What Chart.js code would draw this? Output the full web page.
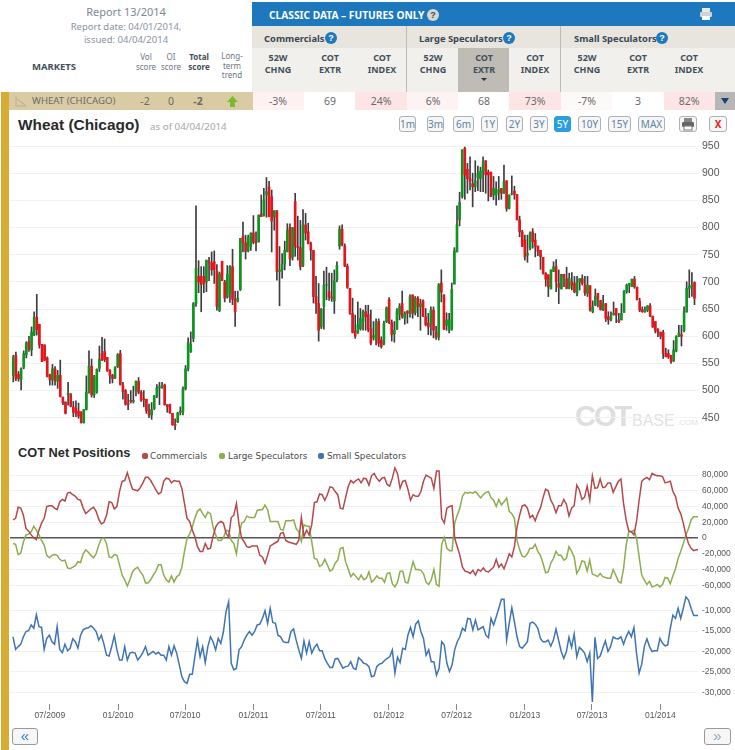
<!DOCTYPE html>
<html><head><meta charset="utf-8">
<script src="https://cdn.jsdelivr.net/npm/chart.js@4/dist/chart.umd.js"></script>
<style>
html,body{margin:0;padding:0;background:#fff;overflow:hidden}
#page{position:relative;width:735px;height:750px;overflow:hidden;font-family:"Noto Sans",sans-serif}
.a{position:absolute;white-space:nowrap}
.c{position:absolute;white-space:nowrap;transform:translateX(-50%);text-align:center}
.box{position:absolute}
.h{font-weight:700;font-size:9px;line-height:12px;color:#44505c;text-align:center}
.s{font-size:8px;line-height:9.5px;color:#6d7681;text-align:center}
.v{font-size:10.5px;line-height:18px;color:#6a6a6a;top:92px}
.q{position:absolute;width:12px;height:12px;border-radius:50%;background:#1e78bd;color:#fff;font:700 9px/12px "Liberation Sans";text-align:center}
.b{position:absolute;top:116px;height:14px;line-height:14px;border:1px solid #a9b2b8;border-radius:3px;background:#f6f6f6;color:#5f83a5;font:10px/14px "Noto Sans";text-align:center;box-sizing:content-box}
canvas{position:absolute;left:0}
</style></head><body><div id="page">
<div class="box" style="left:1px;top:92px;width:8px;height:658px;background:#d8ac32"></div>
<div class="box" style="left:9px;top:92px;width:244px;height:18px;background:#d9cca4"></div>
<div class="box" style="left:252px;top:2px;width:483px;height:24px;background:#1e78bd"></div>
<div class="box" style="left:252px;top:26px;width:483px;height:22px;background:#e8e5de"></div>
<div class="box" style="left:252px;top:48px;width:483px;height:44px;background:#f2f0ec"></div>
<div class="box" style="left:406px;top:26px;width:1px;height:66px;background:#bdbab3"></div>
<div class="box" style="left:560px;top:26px;width:1px;height:66px;background:#bdbab3"></div>
<div class="box" style="left:458px;top:48px;width:51px;height:44px;background:#bfbcb5"></div>
<div class="box" style="left:253px;top:92px;width:51px;height:18px;background:#fdf2f1"></div>
<div class="box" style="left:355px;top:92px;width:52px;height:18px;background:#fde5e5"></div>
<div class="box" style="left:407px;top:92px;width:51px;height:18px;background:#fdf3f3"></div>
<div class="box" style="left:509px;top:92px;width:52px;height:18px;background:#fde5e5"></div>
<div class="box" style="left:561px;top:92px;width:51px;height:18px;background:#fdf9f8"></div>
<div class="box" style="left:664px;top:92px;width:51px;height:18px;background:#fde5e5"></div>
<div class="box" style="left:715px;top:92px;width:20px;height:18px;background:#b7b7b7"></div>
<div class="box" style="left:721px;top:98px;width:0;height:0;border-left:4px solid transparent;border-right:4px solid transparent;border-top:6px solid #1c3f78"></div>
<div class="box" style="left:481px;top:78px;width:0;height:0;border-left:3px solid transparent;border-right:3px solid transparent;border-top:3px solid #333"></div>

<div class="c" style="left:126px;top:4px;font-size:11px;color:#7d8794">Report 13/2014</div>
<div class="c" style="left:126px;top:20px;font-size:9.5px;color:#8a93a0">Report date: 04/01/2014,</div>
<div class="c" style="left:126px;top:33px;font-size:9.5px;color:#8a93a0">issued: 04/04/2014</div>
<div class="c" style="left:54px;top:60px;font-size:9.5px;font-weight:700;color:#44505c">MARKETS</div>
<div class="c s" style="left:146px;top:52px">Vol<br>score</div>
<div class="c s" style="left:171px;top:52px">OI<br>score</div>
<div class="c s" style="left:199px;top:52px;font-weight:700;color:#44505c">Total<br>score</div>
<div class="c s" style="left:232px;top:51px">Long-<br>term<br>trend</div>

<div class="a" style="left:269px;top:8px;font-size:10.2px;font-weight:700;color:#fff">CLASSIC DATA – FUTURES ONLY</div>
<div class="q" style="left:427px;top:9px;background:#d8d6d0;color:#444">?</div>
<svg class="box" style="left:699px;top:7px" width="14" height="14" viewBox="0 0 14 14"><rect x="3" y="1" width="8" height="4" fill="#e8e8e8"/><rect x="1" y="5" width="12" height="5" rx="1" fill="#cfd3d6"/><rect x="3" y="9" width="8" height="4" fill="#fff"/></svg>
<div class="a" style="left:264px;top:32px;font-size:9.4px;font-weight:700;color:#3a4653">Commercials</div>
<div class="q" style="left:325px;top:32px">?</div>
<div class="a" style="left:419px;top:32px;font-size:9.4px;font-weight:700;color:#3a4653">Large Speculators</div>
<div class="q" style="left:503px;top:32px">?</div>
<div class="a" style="left:574px;top:32px;font-size:9.4px;font-weight:700;color:#3a4653">Small Speculators</div>
<div class="q" style="left:656px;top:32px">?</div>

<div class="c h" style="left:278px;top:52px">52W<br>CHNG</div><div class="c h" style="left:330px;top:52px">COT<br>EXTR</div><div class="c h" style="left:382px;top:52px">COT<br>INDEX</div>
<div class="c h" style="left:433px;top:52px">52W<br>CHNG</div><div class="c h" style="left:484px;top:52px">COT<br>EXTR</div><div class="c h" style="left:535px;top:52px">COT<br>INDEX</div>
<div class="c h" style="left:587px;top:52px">52W<br>CHNG</div><div class="c h" style="left:638px;top:52px">COT<br>EXTR</div><div class="c h" style="left:689px;top:52px">COT<br>INDEX</div>

<svg class="box" style="left:15px;top:95px" width="12" height="12" viewBox="0 0 12 12"><path d="M1 1V11H11" stroke="#b9ad88" fill="none"/><path d="M2 4L6 7L10 10" stroke="#c9a08c" fill="none"/></svg>
<div class="a v" style="left:32px;font-size:9.6px">WHEAT (CHICAGO)</div>
<div class="c v" style="left:145px">-2</div><div class="c v" style="left:171px">0</div><div class="c v" style="left:198px;font-weight:700">-2</div>
<svg class="box" style="left:227px;top:96px" width="11" height="11" viewBox="0 0 11 11"><path d="M5.500 0L11 6H8V11H3V6H0Z" fill="#7cb92e"/></svg>
<div class="c v" style="left:278px">-3%</div><div class="c v" style="left:330px">69</div><div class="c v" style="left:381px">24%</div>
<div class="c v" style="left:433px">6%</div><div class="c v" style="left:484px">68</div><div class="c v" style="left:535px">73%</div>
<div class="c v" style="left:587px">-7%</div><div class="c v" style="left:638px">3</div><div class="c v" style="left:689px">82%</div>

<div class="a" style="left:18px;top:114px;font:700 15.4px/22px 'Liberation Sans';color:#2a2a2a">Wheat (Chicago)</div>
<div class="a" style="left:150px;top:120px;font:9.8px/14px 'Noto Sans';color:#a6a6a6">as of 04/04/2014</div>

<div class="b" style="left:399px;width:15px">1m</div><div class="b" style="left:427px;width:15px">3m</div><div class="b" style="left:453px;width:19px">6m</div>
<div class="b" style="left:481px;width:15px">1Y</div><div class="b" style="left:506px;width:15px">2Y</div><div class="b" style="left:530px;width:16px">3Y</div>
<div class="b" style="left:554px;width:15px;background:#2a9fdf;color:#fff;border-color:#2a9fdf">5Y</div>
<div class="b" style="left:578px;width:21px">10Y</div><div class="b" style="left:608px;width:21px">15Y</div><div class="b" style="left:638px;width:25px">MAX</div>
<div class="b" style="left:679px;width:16px"></div>
<svg class="box" style="left:681px;top:117px" width="14" height="14" viewBox="0 0 14 14"><rect x="3" y="1" width="8" height="4" fill="#888"/><rect x="1" y="5" width="12" height="5" rx="1" fill="#666"/><rect x="3" y="9" width="8" height="4" fill="#fff" stroke="#777"/></svg>
<div class="b" style="left:709px;width:16px;color:#e8261a;font-weight:700">X</div>

<div class="a" style="left:575px;top:398px;font:700 29px/36px 'Liberation Sans';letter-spacing:-2px;color:#dedede">COT</div>
<div class="a" style="left:632px;top:411px;font:16px/20px 'Liberation Sans';color:#e2e2e2">BASE</div>
<div class="a" style="left:677px;top:418px;font:8px/10px 'Liberation Sans';color:#e2e2e2">.COM</div>

<div class="a" style="left:18px;top:444px;font:700 12.8px/18px 'Liberation Sans';color:#2a2a2a">COT Net Positions</div>
<div class="box" style="left:142px;top:453px;width:6px;height:6px;border-radius:2px;background:#b5484a"></div>
<div class="a" style="left:150px;top:450px;font:8.8px/12px 'DejaVu Sans';color:#4a4a4a">Commercials</div>
<div class="box" style="left:219px;top:453px;width:6px;height:6px;border-radius:2px;background:#8cad4f"></div>
<div class="a" style="left:228px;top:450px;font:8.8px/12px 'DejaVu Sans';color:#4a4a4a">Large Speculators</div>
<div class="box" style="left:318px;top:453px;width:6px;height:6px;border-radius:2px;background:#3f74b3"></div>
<div class="a" style="left:327px;top:450px;font:8.8px/12px 'DejaVu Sans';color:#4a4a4a">Small Speculators</div>

<canvas id="cPrice" style="top:132px" width="735" height="298"></canvas>
<canvas id="cNet" style="top:465px" width="735" height="130"></canvas>
<canvas id="cSmall" style="top:593px" width="735" height="135"></canvas>

<div class="b" style="left:12px;top:728px;width:24px;height:15px;font:15px/14px 'Liberation Sans';color:#2d7fc4;border-color:#999">«</div>
<div class="b" style="left:704px;top:728px;width:25px;height:15px;font:15px/14px 'Liberation Sans';color:#8fa5b8;border-color:#999">»</div>
</div>
<script>
const priceOpen=[527,565,530,520,543,566,590,575,602,635,622,585,584,560,530,519,540,517,528,488,
479,492,494,470,467,462,461,441,465,497,545,492,497,541,568,572,561,538,528,523,
544,568,510,500,476,482,480,500,517,497,485,484,463,455,467,490,505,507,510,474,
474,458,438,442,460,460,503,540,572,596,660,710,710,710,700,738,735,737,720,647,
738,700,672,680,728,668,665,686,784,772,757,765,790,773,774,825,822,860,875,857,
819,831,719,722,733,756,800,745,848,765,763,730,805,792,770,758,673,660,617,655,
694,682,672,665,704,766,797,766,729,688,642,610,606,614,627,645,640,614,598,593,
627,593,586,627,667,625,604,613,640,660,633,646,642,676,643,670,654,665,636,624,
622,648,608,598,698,676,620,611,613,696,755,814,857,946,907,890,881,875,892,890,
903,923,902,902,860,860,865,872,863,886,835,862,867,861,814,792,777,749,762,792,
777,766,758,745,716,713,687,719,728,697,687,714,706,688,700,697,679,700,706,694,
679,693,645,657,679,666,648,660,636,631,639,651,630,630,644,682,694,691,705,690,
664,649,646,648,656,637,627,613,607,607,568,568,565,555,573,599,603,610,645,688,691,699];
const priceHigh=[565,571,535,542,573,590,600,617,645,677,622,585,584,562,530,548,544,537,556,488,
479,515,494,480,481,477,461,465,527,573,558,528,540,582,598,595,561,538,530,544,
568,574,515,502,493,500,508,518,524,500,500,484,475,478,491,511,515,515,512,474,
475,458,448,460,470,507,546,597,608,662,840,739,728,728,740,745,755,757,732,718,
738,703,730,730,760,683,683,780,810,786,786,790,822,792,823,860,872,892,885,869,
831,831,765,752,775,807,807,800,863,821,813,833,826,808,773,758,710,697,651,720,
727,716,716,722,737,803,805,770,733,688,670,639,663,651,648,657,657,648,627,632,
632,599,628,654,671,630,627,651,660,683,645,647,676,676,673,673,668,667,651,642,
654,654,618,697,722,676,643,642,698,763,840,865,943,948,918,930,900,923,913,911,
930,923,906,902,894,884,894,872,915,886,860,895,876,861,821,795,786,786,792,798,
789,766,758,745,717,713,722,737,741,722,714,714,727,716,717,710,710,706,713,710,
710,693,665,687,679,666,675,660,645,645,663,651,642,660,684,696,697,705,710,691,
670,654,654,656,660,637,627,614,608,611,578,575,565,592,601,620,620,654,700,722,717,700];
const priceLow=[516,518,517,501,540,560,572,564,601,602,578,553,555,525,510,510,510,504,488,474,
457,473,470,452,452,449,440,440,464,495,488,487,495,535,555,553,535,513,514,522,
542,510,484,473,465,477,477,490,494,480,470,458,450,447,465,487,474,504,473,460,
458,436,424,441,455,455,501,536,570,590,655,680,645,680,682,702,712,697,648,645,
702,663,670,662,658,618,663,684,755,742,755,758,770,757,773,820,821,819,820,755,
795,703,656,707,722,755,730,740,747,740,722,728,777,770,740,661,642,591,614,613,
667,666,664,642,700,760,766,728,688,640,606,596,605,611,611,611,608,584,593,584,
581,578,584,625,623,591,589,612,630,633,622,624,635,633,639,636,611,636,619,603,
602,597,594,593,663,612,611,606,611,696,755,803,854,852,863,869,838,866,868,866,
866,863,849,857,851,841,851,852,863,830,834,860,852,814,783,765,740,736,759,762,
746,748,723,714,692,673,687,719,682,660,687,691,687,687,685,680,674,685,694,675,
673,646,643,656,654,648,647,627,622,628,639,625,625,630,644,679,680,691,688,667,
645,644,644,645,636,616,606,599,595,559,562,559,550,553,571,599,582,608,644,671,673,658];
const priceClose=[562,522,522,540,568,588,576,608,635,612,584,553,556,526,520,540,518,528,489,477,
458,495,471,460,458,453,441,465,497,545,492,525,539,558,556,557,537,528,522,542,
566,511,498,475,474,480,482,517,497,482,483,463,455,465,490,505,507,509,474,470,
459,437,436,459,462,503,540,588,585,660,725,700,695,697,740,735,722,722,655,715,
703,670,714,728,668,645,670,780,772,756,782,790,773,772,823,820,851,866,820,812,
831,719,722,732,758,795,742,800,765,763,728,804,790,770,758,673,660,611,650,694,
695,672,670,702,730,797,768,729,690,642,607,600,621,633,645,636,612,587,601,625,
587,581,624,652,625,603,611,646,655,636,642,642,673,642,670,654,660,637,621,617,
648,611,598,695,681,613,630,630,686,757,805,846,943,897,890,885,875,886,900,904,
921,897,897,857,872,870,869,863,884,835,860,863,861,814,792,765,746,752,790,774,
765,756,746,716,705,691,722,728,700,690,714,708,688,706,694,682,700,706,697,680,
694,648,654,674,668,649,660,633,630,636,642,639,627,642,683,694,697,705,691,667,
648,645,649,656,637,617,610,607,600,568,562,562,553,575,599,606,600,645,688,692,694,670];
const commercials=[23,25,39,38,29,12,9,4,0,-2,10,19,25,40,41,41,38,36,46,49,
47,57,58,55,53,49,48,38,31,34,37,39,34,24,18,20,29,46,45,37,
40,59,72,73,83,72,62,61,60,64,70,77,77,73,67,61,56,58,72,76,
75,70,73,72,72,63,44,25,21,10,2,-11,-17,-17,-7,-14,-13,2,14,19,
21,19,6,1,26,29,44,17,0,-5,-11,-12,-10,-10,-10,-22,-24,-32,-22,-10,
-8,-6,-4,6,7,-3,-5,-6,-7,-8,-3,26,2,10,4,17,45,46,56,55,
48,55,65,64,59,55,38,37,51,65,73,70,73,75,70,76,75,67,79,82,
76,72,76,77,68,66,76,89,82,63,72,73,62,48,55,53,53,59,72,80,
78,76,63,85,85,25,19,38,40,41,0,-11,-22,-37,-42,-43,-45,-41,-47,-40,
-42,-38,-42,-43,-40,-37,-27,-37,-33,-39,-30,-20,-24,-11,14,29,41,42,38,26,
29,22,31,38,51,62,60,48,42,32,41,41,49,43,28,38,41,67,61,49,
52,66,48,79,63,64,75,64,65,70,70,58,65,72,75,44,23,9,8,4,
21,48,72,75,77,74,82,80,79,79,78,70,71,72,59,53,38,31,19,4,-7,-13,-16,-15,-15];
const largeSpeculators=[-7,-8,-21,-19,-5,4,5,8,15,10,4,-3,-9,-22,-25,-22,-21,-22,-27,-29,
-28,-38,-39,-37,-35,-30,-31,-20,-15,-18,-22,-25,-20,-9,-1,0,-7,-24,-25,-21,
-22,-34,-47,-53,-61,-53,-43,-39,-37,-43,-47,-57,-57,-53,-47,-42,-34,-34,-47,-53,
-56,-48,-56,-49,-47,-37,-17,0,5,14,25,34,37,31,26,33,31,14,4,-3,
-3,0,10,9,-3,-7,-20,4,19,21,28,26,26,26,35,36,36,42,36,21,
21,21,21,11,10,22,22,22,23,12,8,-4,17,15,15,-5,-26,-27,-36,-34,
-27,-34,-42,-40,-32,-28,-13,-12,-30,-39,-49,-45,-49,-53,-47,-53,-51,-43,-56,-53,
-48,-51,-51,-56,-45,-44,-58,-62,-56,-42,-42,-56,-57,-43,-30,-40,-40,-41,-45,-56,
-59,-53,-40,-59,-61,-8,1,-13,-16,-16,19,29,38,53,58,57,58,57,59,55,
51,55,58,59,51,48,40,49,42,46,51,34,31,25,-3,-15,-23,-24,-20,-13,
-13,-8,-17,-22,-32,-44,-43,-32,-26,-17,-22,-22,-28,-26,-11,-17,-24,-45,-39,-29,
-30,-42,-28,-46,-47,-49,-45,-49,-50,-51,-51,-40,-47,-55,-57,-39,-9,8,8,10,
0,-24,-47,-53,-59,-55,-62,-61,-59,-62,-59,-50,-51,-58,-48,-39,-26,-17,-7,4,12,23,27,27,27];
const smallSpeculators=[-16.4,-19.5,-18.8,-18.2,-16.4,-15.1,-14.9,-13.5,-14.3,-11,-13.9,-14.1,-19.5,-16.8,-16,-17.6,-18.2,-13.9,-19.5,-20.3,
-18.2,-19.8,-19.2,-16.9,-17.6,-19.2,-16,-14.7,-14.3,-14.2,-13.7,-14.3,-15.1,-17.2,-16,-18.2,-20.9,-21.1,-18.8,-16.1,
-19.6,-22.1,-22.1,-18.8,-22.1,-20.4,-20.2,-20.4,-22.1,-21.3,-20.2,-18.8,-20.9,-20.4,-20,-20.6,-20.2,-20.9,-20.9,-22.1,
-18.8,-20.9,-18.6,-20.4,-23.3,-26.2,-27.4,-27.8,-25.6,-25.6,-21.3,-17.2,-21.3,-18.8,-22.7,-18.8,-16.4,-17.6,-19.6,-16.8,
-18,-15.1,-10.2,-7.8,-22.9,-24.5,-24.1,-19.6,-18.8,-17.2,-16,-15.1,-16,-15.1,-13.5,-13.3,-11.9,-10,-13.1,-9.4,
-12.9,-13.1,-16,-16.4,-17.6,-17.8,-17.8,-15.1,-14.5,-17.2,-19.6,-21.7,-17.4,-20.4,-17.6,-20.4,-19,-18.2,-19.8,-19.8,
-21.7,-22.9,-23.9,-23.9,-21.8,-21.7,-22.9,-24.1,-23.7,-23.6,-22.5,-24.1,-24.4,-21.5,-22.1,-22.9,-23.1,-23.7,-26.2,-26,
-23.7,-23.1,-22.9,-22.2,-21.7,-21.3,-19.6,-25.3,-21.4,-22.7,-19.2,-19.5,-16,-14.1,-16.4,-13.3,-12.5,-15.1,-16.8,-20.9,
-19.6,-22.5,-22.5,-25.8,-24.1,-17.6,-18.4,-22.9,-24.9,-23.3,-19.6,-17.6,-16.4,-14.3,-14.9,-11.9,-12,-14.7,-12.3,-14.7,
-14.3,-13.9,-16,-16.6,-11.9,-13.5,-11.5,-9.4,-7.2,-7.2,-17.2,-13.1,-9.3,-12.7,-16.4,-18.8,-19.2,-18.4,-17.6,-13.1,
-12.8,-13.3,-14.3,-16.8,-17.6,-17.6,-17.2,-18.7,-17.2,-14.5,-17.2,-20,-21.7,-20,-16.5,-19,-15.7,-21.3,-19,-19.6,
-20.4,-22.5,-20.4,-32.4,-16.5,-21.7,-21.1,-19.2,-17.4,-20,-18.8,-16.4,-16.8,-16.9,-16.4,-18.2,-16.4,-15.1,-16.4,-14.1,
-20.4,-25.3,-23.1,-18.8,-16.9,-18.8,-20,-19.8,-19.8,-16.8,-18,-18.6,-18.4,-14.3,-11.1,-11.9,-9.4,-11.9,-9.4,-6.6,-7.4,-9.4,-11.2,-11.2,-11.2];
const priceTicks=[450,500,550,600,650,700,750,800,850,900,950];
const netTicks=[-60,-40,-20,0,20,40,60,80];
const smallTicks=[-30,-25,-20,-15,-10];
const xTickLabels=["07/2009","01/2010","07/2010","01/2011","07/2011","01/2012","07/2012","01/2013","07/2013","01/2014"];

const GRID='#f1f1f1',TXT='#555';
const weekOf=l=>{const[m,y]=l.split('/').map(Number);return (Date.UTC(y,m-1,1)-Date.UTC(2009,2,24))/6048e5};
const fixedTicks=v=>s=>{s.ticks=v.map(value=>({value}))};
const noPad=s=>{s.paddingTop=0;s.paddingBottom=0;s.paddingLeft=0;s.paddingRight=0};
const yAxis=(min,max,ticks,fs,cb)=>({position:'right',min,max,afterBuildTicks:fixedTicks(ticks),
  afterFit:s=>{s.width=37;noPad(s)},border:{display:false},
  grid:{drawTicks:false,color:c=>c.tick&&c.tick.value===0?'#555':GRID,lineWidth:c=>c.tick&&c.tick.value===0?1.5:1},
  ticks:{padding:4,color:TXT,font:{family:'Liberation Sans',size:fs},callback:cb}});
const hiddenX=(min,max)=>({type:'linear',min,max,display:false,offset:false,grid:{display:false}});
const base={animation:false,responsive:false,devicePixelRatio:1,events:[],layout:{padding:{left:10,top:0,bottom:0,right:0}},
  plugins:{legend:{display:false},tooltip:{enabled:false}}};
const fmt=v=>(v*1000).toLocaleString('en-US');

new Chart(document.getElementById('cPrice'),{type:'bar',data:{datasets:[
  {label:'Body',order:0,barThickness:2,grouped:false,data:priceOpen.map((o,i)=>({x:i,y:[o,priceClose[i]]})),
   backgroundColor:priceOpen.map((o,i)=>priceClose[i]>=o?'#0f9420':'#e8141c')},
  {label:'Range',order:1,barThickness:1,grouped:false,data:priceHigh.map((h,i)=>({x:i,y:[priceLow[i],h]})),backgroundColor:'#3d3d3d'}
]},options:{...base,scales:{x:hiddenX(-1.26,262.34),y:yAxis(427.4,975.8,priceTicks,10.5,v=>v)}}});

const line=(label,data,color)=>({label,data:data.map((y,i)=>({x:i,y})),borderColor:color,borderWidth:1.5,pointRadius:0,tension:0,fill:false});
new Chart(document.getElementById('cNet'),{type:'line',data:{datasets:[
  line('Commercials',commercials,'#b5484a'),line('Large Speculators',largeSpeculators,'#8cad4f')
]},options:{...base,scales:{x:hiddenX(-1.155,263.66),y:yAxis(-72.3,92.7,netTicks,8.5,fmt)}}});

new Chart(document.getElementById('cSmall'),{type:'line',data:{datasets:[
  line('Small Speculators',smallSpeculators,'#3f74b3')
]},options:{...base,scales:{
  x:{type:'linear',min:-1.155,max:263.66,offset:false,border:{display:false},
     afterBuildTicks:s=>{s.ticks=xTickLabels.map(l=>({value:weekOf(l),label:l}))},
     afterTickToLabelConversion:s=>{s.ticks.forEach((t,i)=>{t.label=xTickLabels[i]})},
     afterFit:s=>{s.height=24;noPad(s)},
     grid:{drawOnChartArea:false,drawTicks:true,tickLength:6,color:'#888'},
     ticks:{autoSkip:false,maxRotation:0,padding:1,color:TXT,font:{family:'Liberation Sans',size:8.5}}},
  y:yAxis(-32.87,-5.66,smallTicks,8.5,fmt)}}});
</script></body></html>
